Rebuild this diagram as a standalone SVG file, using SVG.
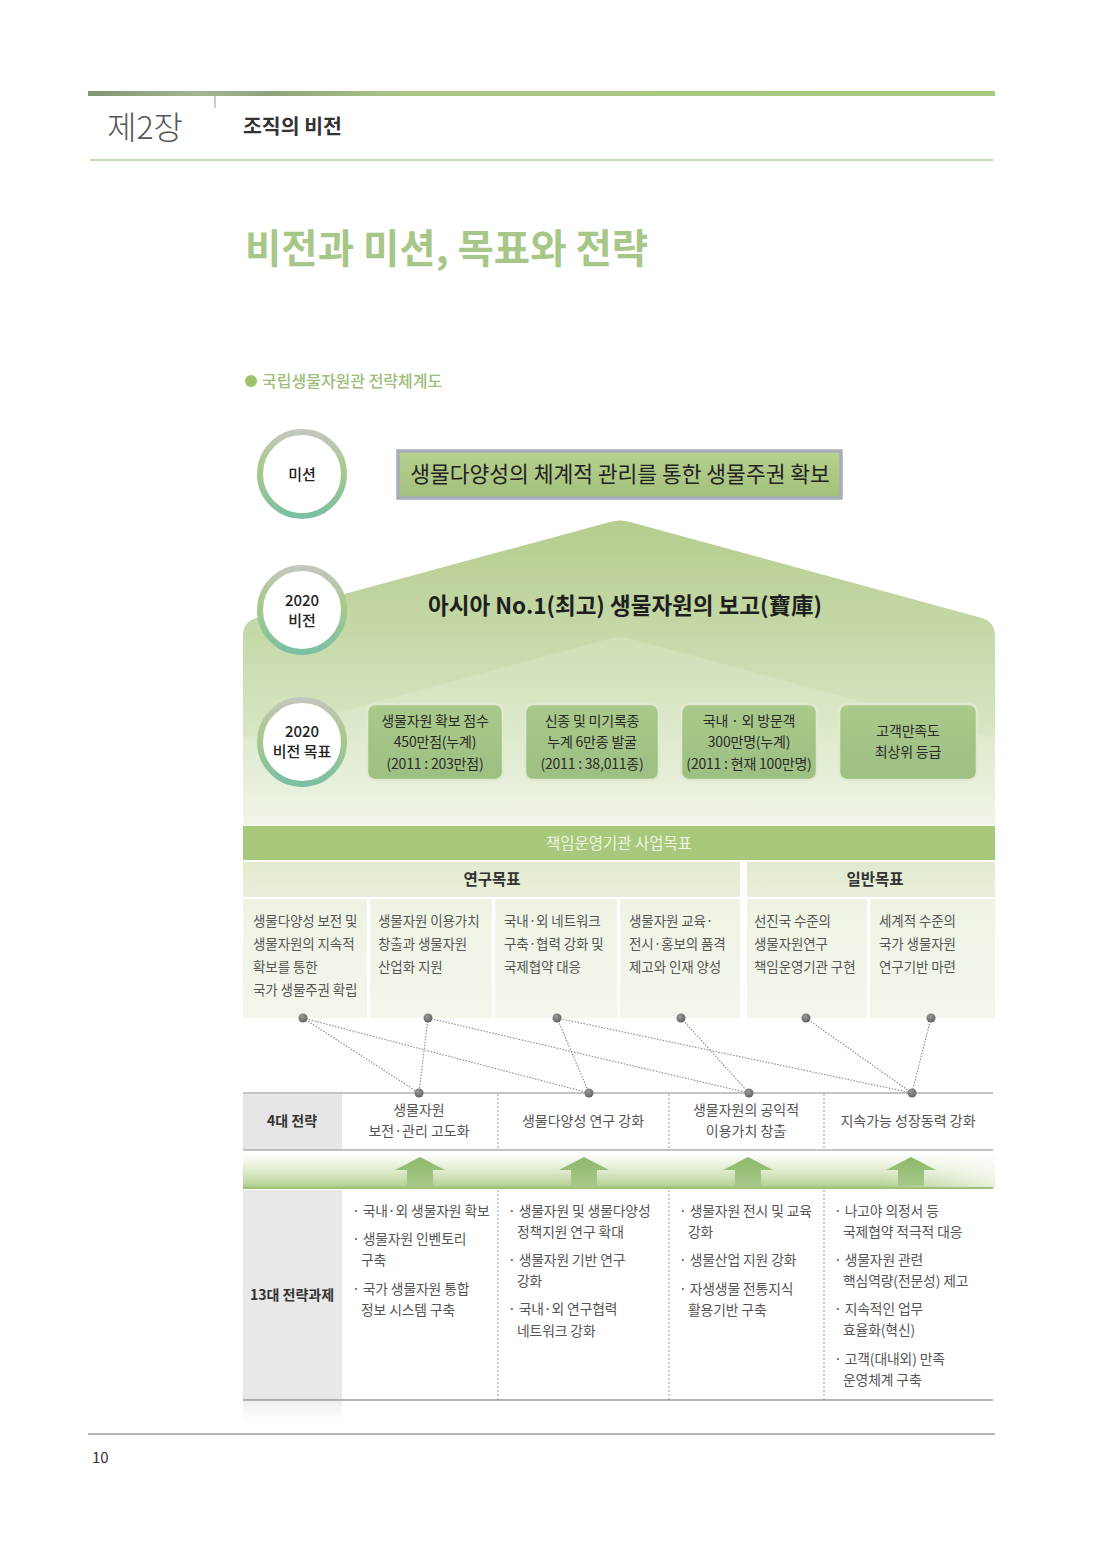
<svg xmlns="http://www.w3.org/2000/svg" width="1100" height="1558" viewBox="0 0 1100 1558">
<defs>
<style>
text{font-family:"Noto Sans CJK KR","Noto Sans",sans-serif;}
.hd{font-size:32px;font-weight:300;fill:#555;}
.sub{font-size:20.5px;font-weight:700;fill:#333;}
.title{font-size:39.5px;font-weight:700;fill:#a6c787;}
.cap{font-size:16px;fill:#9dbd79;font-weight:500;}
.lbl{font-size:15px;font-weight:500;fill:#222;text-anchor:middle;}
.gt{font-size:14px;fill:#2a2a2a;text-anchor:middle;letter-spacing:-0.2px;}
.ct{font-size:13.5px;fill:#555;letter-spacing:-0.1px;}
.hb{font-size:15.5px;font-weight:700;fill:#333;text-anchor:middle;}
.st{font-size:14px;fill:#555;text-anchor:middle;}
.sl{font-size:14px;font-weight:700;fill:#333;text-anchor:middle;}
.tt{font-size:13.8px;fill:#555;letter-spacing:-0.1px;}
.ring{fill:#fff;stroke:url(#ringG);stroke-width:6;}
.dot{fill:url(#dotG);}
.cn{fill:none;stroke:#8a8a8a;stroke-width:1.1;stroke-dasharray:1.5,1.5;}
.dv{stroke:#999;stroke-width:1;stroke-dasharray:2,2;}
.gbox{fill:url(#boxG);stroke:#dfe9cf;stroke-width:2.5;}
.cell{fill:url(#cellG);}
.arr{fill:url(#arrG);}
</style>
<linearGradient id="barG" x1="0" y1="0" x2="1" y2="0">
<stop offset="0" stop-color="#7f9470"/><stop offset="0.12" stop-color="#a3b890"/><stop offset="0.2" stop-color="#8fa47c"/><stop offset="0.35" stop-color="#a9c784"/><stop offset="1" stop-color="#a8c87e"/>
</linearGradient>
<linearGradient id="ringG" x1="0" y1="0" x2="0" y2="1">
<stop offset="0" stop-color="#c2c6bc"/><stop offset="0.45" stop-color="#a8c98a"/><stop offset="1" stop-color="#7bbfa4"/>
</linearGradient>
<linearGradient id="misG" x1="0" y1="0" x2="0" y2="1">
<stop offset="0" stop-color="#b8d18f"/><stop offset="1" stop-color="#a2c07b"/>
</linearGradient>
<linearGradient id="houseG" x1="0" y1="520" x2="0" y2="825" gradientUnits="userSpaceOnUse">
<stop offset="0" stop-color="#b5cd8e"/><stop offset="0.35" stop-color="#c4d8a6"/><stop offset="0.7" stop-color="#d8e6c4"/><stop offset="1" stop-color="#eef4e5"/>
</linearGradient>
<linearGradient id="boxG" x1="0" y1="0" x2="0" y2="1">
<stop offset="0" stop-color="#aac98a"/><stop offset="1" stop-color="#9cbf82"/>
</linearGradient>
<linearGradient id="hdrG" x1="0" y1="0" x2="0" y2="1">
<stop offset="0" stop-color="#e1ebcc"/><stop offset="1" stop-color="#e9f0db"/>
</linearGradient>
<linearGradient id="cellG" x1="0" y1="0" x2="0" y2="1">
<stop offset="0" stop-color="#eef4e3"/><stop offset="1" stop-color="#f3f6ec"/>
</linearGradient>
<radialGradient id="dotG" cx="0.4" cy="0.35" r="0.7">
<stop offset="0" stop-color="#9a9a9a"/><stop offset="1" stop-color="#5f5f5f"/>
</radialGradient>
<linearGradient id="bandG" x1="0" y1="0" x2="0" y2="1">
<stop offset="0" stop-color="#ffffff"/><stop offset="0.55" stop-color="#dbe9c9"/><stop offset="0.9" stop-color="#b9d499"/><stop offset="1" stop-color="#a3c47f"/>
</linearGradient>
<linearGradient id="bandH" x1="0" y1="0" x2="1" y2="0">
<stop offset="0" stop-color="#fff" stop-opacity="0"/><stop offset="0.85" stop-color="#fff" stop-opacity="0"/><stop offset="1" stop-color="#fff" stop-opacity="0.7"/>
</linearGradient>
<linearGradient id="arrG" x1="0" y1="0" x2="0" y2="1">
<stop offset="0" stop-color="#8db86a"/><stop offset="1" stop-color="#a6c98a"/>
</linearGradient>
<linearGradient id="tailG" x1="0" y1="0" x2="0" y2="1">
<stop offset="0" stop-color="#efefef"/><stop offset="1" stop-color="#fff"/>
</linearGradient>
</defs>

<rect width="1100" height="1558" fill="#ffffff"/>

<g id="page-header">
<rect x="88" y="91" width="907" height="5" fill="url(#barG)"/>
<line x1="215" y1="96" x2="215" y2="108" stroke="#999" stroke-width="1"/>
<text x="107" y="139" class="hd">제2장</text>
<text x="243" y="134" class="sub">조직의 비전</text>
<line x1="90" y1="160" x2="993" y2="160" stroke="#b8cfa0" stroke-width="1.5"/>
</g>

<g id="title">
<text x="245" y="263" class="title">비전과 미션, 목표와 전략</text>
</g>

<g id="caption">
<circle cx="251" cy="381" r="6" fill="#9cc26c"/>
<text x="262" y="387" class="cap">국립생물자원관 전략체계도</text>
</g>

<g id="house">
<path d="M243,636 Q243,622 256,618 L610,522 Q620,519 630,522 L982,618 Q995,622 995,636 L995,825 L243,825 Z" fill="url(#houseG)"/>
<path d="M243,738 L612,638 Q620,636 628,638 L995,738 L995,825 L243,825 Z" fill="#ffffff" opacity="0.14"/>
</g>

<g id="mission-label">
<circle cx="302" cy="474" r="42" class="ring"/>
<text x="302" y="480" class="lbl">미션</text>
</g>
<g id="mission">
<rect x="398" y="451" width="443" height="47" fill="url(#misG)" stroke="#a7aeb6" stroke-width="3.5"/>
<text x="620" y="482" font-size="21.5" fill="#222" text-anchor="middle">생물다양성의 체계적 관리를 통한 생물주권 확보</text>
</g>

<g id="vision-label">
<circle cx="302" cy="610" r="42" class="ring"/>
<text x="302" y="606" class="lbl">2020</text>
<text x="302" y="626" class="lbl">비전</text>
</g>
<g id="vision">
<text x="625" y="614" font-size="22.5" font-weight="700" fill="#1e1e1e" text-anchor="middle">아시아 No.1(최고) 생물자원의 보고(寶庫)</text>
</g>

<g id="goal-label">
<circle cx="302" cy="742" r="42" class="ring"/>
<text x="302" y="737" class="lbl">2020</text>
<text x="302" y="757" class="lbl">비전 목표</text>
</g>
<g id="goal-1">
<rect x="367" y="704" width="136" height="76" rx="8" class="gbox"/>
<text x="435" y="726" class="gt">생물자원 확보 점수</text>
<text x="435" y="747" class="gt">450만점(누계)</text>
<text x="435" y="769" class="gt">(2011 : 203만점)</text>
</g>
<g id="goal-2">
<rect x="525" y="704" width="134" height="76" rx="8" class="gbox"/>
<text x="592" y="726" class="gt">신종 및 미기록종</text>
<text x="592" y="747" class="gt">누계 6만종 발굴</text>
<text x="592" y="769" class="gt">(2011 : 38,011종)</text>
</g>
<g id="goal-3">
<rect x="681" y="704" width="136" height="76" rx="8" class="gbox"/>
<text x="749" y="726" class="gt">국내 · 외 방문객</text>
<text x="749" y="747" class="gt">300만명(누계)</text>
<text x="749" y="769" class="gt">(2011 : 현재 100만명)</text>
</g>
<g id="goal-4">
<rect x="839" y="704" width="138" height="76" rx="8" class="gbox"/>
<text x="908" y="736" class="gt">고객만족도</text>
<text x="908" y="757" class="gt">최상위 등급</text>
</g>

<g id="business-goals">
<rect x="243" y="826" width="752" height="34" fill="#a8c87c"/>
<text x="619" y="849" font-size="15.5" fill="#eef5e2" text-anchor="middle">책임운영기관 사업목표</text>
<rect x="243" y="862" width="497" height="35" fill="url(#hdrG)"/>
<rect x="747" y="862" width="248" height="35" fill="url(#hdrG)"/>
<text x="492" y="885" class="hb">연구목표</text>
<text x="875" y="885" class="hb">일반목표</text>
</g>

<g id="objective-1">
<rect x="243" y="899" width="124" height="119" class="cell"/>
<text x="253" y="926" class="ct">생물다양성 보전 및</text>
<text x="253" y="949" class="ct">생물자원의 지속적</text>
<text x="253" y="972" class="ct">확보를 통한</text>
<text x="253" y="995" class="ct">국가 생물주권 확립</text>
</g>
<g id="objective-2">
<rect x="370" y="899" width="122" height="119" class="cell"/>
<text x="378" y="926" class="ct">생물자원 이용가치</text>
<text x="378" y="949" class="ct">창출과 생물자원</text>
<text x="378" y="972" class="ct">산업화 지원</text>
</g>
<g id="objective-3">
<rect x="495" y="899" width="122" height="119" class="cell"/>
<text x="504" y="926" class="ct">국내·외 네트워크</text>
<text x="504" y="949" class="ct">구축·협력 강화 및</text>
<text x="504" y="972" class="ct">국제협약 대응</text>
</g>
<g id="objective-4">
<rect x="620" y="899" width="120" height="119" class="cell"/>
<text x="629" y="926" class="ct">생물자원 교육·</text>
<text x="629" y="949" class="ct">전시·홍보의 품격</text>
<text x="629" y="972" class="ct">제고와 인재 양성</text>
</g>
<g id="objective-5">
<rect x="747" y="899" width="120" height="119" class="cell"/>
<text x="754" y="926" class="ct">선진국 수준의</text>
<text x="754" y="949" class="ct">생물자원연구</text>
<text x="754" y="972" class="ct">책임운영기관 구현</text>
</g>
<g id="objective-6">
<rect x="870" y="899" width="125" height="119" class="cell"/>
<text x="879" y="926" class="ct">세계적 수준의</text>
<text x="879" y="949" class="ct">국가 생물자원</text>
<text x="879" y="972" class="ct">연구기반 마련</text>
</g>

<g id="connectors">
<line class="cn" x1="303" y1="1018" x2="419" y2="1093"/>
<line class="cn" x1="303" y1="1018" x2="589" y2="1093"/>
<line class="cn" x1="428" y1="1018" x2="419" y2="1093"/>
<line class="cn" x1="428" y1="1018" x2="749" y2="1093"/>
<line class="cn" x1="557" y1="1018" x2="589" y2="1093"/>
<line class="cn" x1="557" y1="1018" x2="912" y2="1093"/>
<line class="cn" x1="681" y1="1018" x2="749" y2="1093"/>
<line class="cn" x1="806" y1="1018" x2="912" y2="1093"/>
<line class="cn" x1="931" y1="1018" x2="912" y2="1093"/>
<circle class="dot" cx="303" cy="1018" r="4.5"/>
<circle class="dot" cx="428" cy="1018" r="4.5"/>
<circle class="dot" cx="557" cy="1018" r="4.5"/>
<circle class="dot" cx="681" cy="1018" r="4.5"/>
<circle class="dot" cx="806" cy="1018" r="4.5"/>
<circle class="dot" cx="931" cy="1018" r="4.5"/>
</g>

<g id="strategy-table">
<rect x="243" y="1094" width="99" height="56" fill="#e6e6e6"/>
<line x1="243" y1="1093" x2="993" y2="1093" stroke="#8a8a8a" stroke-width="1.2"/>
<line x1="243" y1="1150" x2="993" y2="1150" stroke="#8a8a8a" stroke-width="1.2"/>
<line class="dv" x1="498" y1="1094" x2="498" y2="1150"/>
<line class="dv" x1="669" y1="1094" x2="669" y2="1150"/>
<line class="dv" x1="824" y1="1094" x2="824" y2="1150"/>
<text x="292" y="1126" class="sl">4대 전략</text>
</g>
<g id="strategy-1">
<text x="419" y="1115" class="st">생물자원</text>
<text x="419" y="1136" class="st">보전·관리 고도화</text>
</g>
<g id="strategy-2">
<text x="583" y="1126" class="st">생물다양성 연구 강화</text>
</g>
<g id="strategy-3">
<text x="746" y="1115" class="st">생물자원의 공익적</text>
<text x="746" y="1136" class="st">이용가치 창출</text>
</g>
<g id="strategy-4">
<text x="908" y="1126" class="st">지속가능 성장동력 강화</text>
</g>
<g id="strategy-dots">
<circle class="dot" cx="419" cy="1093" r="4.5"/>
<circle class="dot" cx="589" cy="1093" r="4.5"/>
<circle class="dot" cx="749" cy="1093" r="4.5"/>
<circle class="dot" cx="912" cy="1093" r="4.5"/>
</g>

<g id="arrow-band">
<rect x="243" y="1153" width="752" height="35" fill="url(#bandG)"/>
<rect x="243" y="1153" width="752" height="35" fill="url(#bandH)"/>
<polygon class="arr" points="420,1157 445,1170 433,1170 433,1186 407,1186 407,1170 395,1170"/>
<polygon class="arr" points="584,1157 609,1170 597,1170 597,1186 571,1186 571,1170 559,1170"/>
<polygon class="arr" points="748,1157 773,1170 761,1170 761,1186 735,1186 735,1170 723,1170"/>
<polygon class="arr" points="911,1157 936,1170 924,1170 924,1186 898,1186 898,1170 886,1170"/>
<line x1="243" y1="1188" x2="993" y2="1188" stroke="#9fc27a" stroke-width="2"/>
</g>

<g id="task-table">
<rect x="243" y="1190" width="99" height="210" fill="#e8e8e8"/>
<rect x="243" y="1401" width="99" height="20" fill="url(#tailG)"/>
<line class="dv" x1="498" y1="1190" x2="498" y2="1400"/>
<line class="dv" x1="669" y1="1190" x2="669" y2="1400"/>
<line class="dv" x1="824" y1="1190" x2="824" y2="1400"/>
<line x1="243" y1="1400" x2="993" y2="1400" stroke="#9a9a9a" stroke-width="1.5"/>
<text x="292" y="1300" class="sl">13대 전략과제</text>
</g>
<g id="tasks-1">
<text x="352" y="1216" class="tt">· 국내·외 생물자원 확보</text>
<text x="352" y="1244" class="tt">· 생물자원 인벤토리</text>
<text x="361" y="1265" class="tt">구축</text>
<text x="352" y="1294" class="tt">· 국가 생물자원 통합</text>
<text x="361" y="1315" class="tt">정보 시스템 구축</text>
</g>
<g id="tasks-2">
<text x="508" y="1216" class="tt">· 생물자원 및 생물다양성</text>
<text x="517" y="1237" class="tt">정책지원 연구 확대</text>
<text x="508" y="1265" class="tt">· 생물자원 기반 연구</text>
<text x="517" y="1286" class="tt">강화</text>
<text x="508" y="1314" class="tt">· 국내·외 연구협력</text>
<text x="517" y="1336" class="tt">네트워크 강화</text>
</g>
<g id="tasks-3">
<text x="679" y="1216" class="tt">· 생물자원 전시 및 교육</text>
<text x="688" y="1237" class="tt">강화</text>
<text x="679" y="1265" class="tt">· 생물산업 지원 강화</text>
<text x="679" y="1294" class="tt">· 자생생물 전통지식</text>
<text x="688" y="1315" class="tt">활용기반 구축</text>
</g>
<g id="tasks-4">
<text x="834" y="1216" class="tt">· 나고야 의정서 등</text>
<text x="843" y="1237" class="tt">국제협약 적극적 대응</text>
<text x="834" y="1265" class="tt">· 생물자원 관련</text>
<text x="843" y="1286" class="tt">핵심역량(전문성) 제고</text>
<text x="834" y="1314" class="tt">· 지속적인 업무</text>
<text x="843" y="1335" class="tt">효율화(혁신)</text>
<text x="834" y="1364" class="tt">· 고객(대내외) 만족</text>
<text x="843" y="1385" class="tt">운영체계 구축</text>
</g>

<g id="page-footer">
<line x1="88" y1="1434" x2="995" y2="1434" stroke="#b5b5b5" stroke-width="2"/>
<text x="92" y="1463" font-size="15" fill="#333" font-family="Liberation Sans, sans-serif">10</text>
</g>
</svg>
